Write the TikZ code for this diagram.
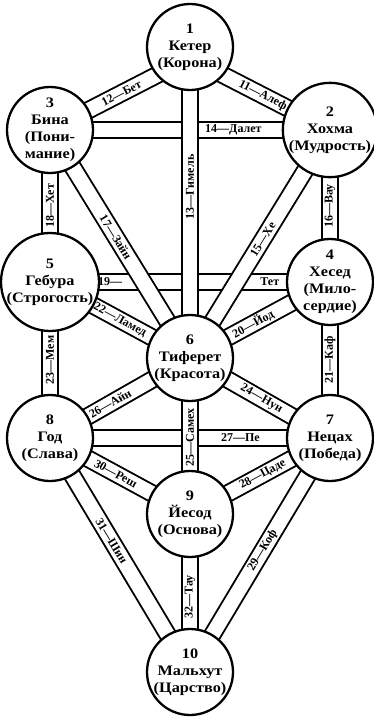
\documentclass[tikz,border=0pt]{standalone}
\usepackage{fontspec}
\setmainfont{Liberation Serif}
\newfontfamily\sefont{Liberation Serif Bold}[FakeStretch=1.12]
\usetikzlibrary{calc}
\pgfdeclarelayer{bg}
\pgfsetlayers{bg,main}
\begin{document}
\begin{tikzpicture}[x=1pt,y=-1pt,
  sef/.style={circle, draw, line width=2.3pt, fill=white, minimum size=86pt, inner sep=0pt, align=center, font=\sefont\fontsize{14.5}{17}\selectfont},
  band/.style={draw=black, line width=1.9pt, double=white, double distance=14.5pt},
  lab/.style={sloped, inner sep=0pt, font=\bfseries\fontsize{12}{12}\selectfont}]
\useasboundingbox (0,0) rectangle (374,718);
\node[sef] (K)  at (190,47)  {1\\Кетер\\(Корона)};
\node[sef] (B)  at (50,130)  {3\\Бина\\(Пони-\\мание)};
\node[sef] (H)  at (330,130) {2\\Хохма\\(Мудрость)};
\node[sef] (G)  at (50,282)  {5\\Гебура\\(Строгость)};
\node[sef] (C)  at (330,282) {4\\Хесед\\(Мило-\\сердие)};
\node[sef] (T)  at (190,358) {6\\Тиферет\\(Красота)};
\node[sef] (Hd) at (50,438)  {8\\Год\\(Слава)};
\node[sef] (N)  at (330,438) {7\\Нецах\\(Победа)};
\node[sef] (Y)  at (190,514) {9\\Йесод\\(Основа)};
\node[sef] (M)  at (190,672) {10\\Мальхут\\(Царство)};
\coordinate (Kb) at ($(K)+(0,11)$);
\begin{pgfonlayer}{bg}
\draw[band] (B.center) -- node[lab,pos=0.655]{14—Далет} (H.center);
\draw[band] (G.center) -- node[lab,pos=0.215]{19—} node[lab,pos=0.785]{Тет} (C.center);
\draw[band] (Hd.center) -- node[lab,pos=0.68]{27—Пе} (N.center);
\draw[band] (B.center) -- node[lab,pos=0.51]{12—Бет} (Kb);
\draw[band] (Kb) -- node[lab,pos=0.52]{11—Алеф} (H.center);
\draw[band] (T.center) -- node[lab,pos=0.55]{13—Гимель} (K.center);
\draw[band] (G.center) -- node[lab,pos=0.5]{18—Хет} (B.center);
\draw[band] (C.center) -- node[lab,pos=0.5]{16—Вау} (H.center);
\draw[band] (B.center) -- node[lab,pos=0.47]{17—Зайн} (T.center);
\draw[band] (T.center) -- node[lab,pos=0.52]{15—Хе} (H.center);
\draw[band] (G.center) -- node[lab,pos=0.5]{22—Ламед} (T.center);
\draw[band] (T.center) -- node[lab,pos=0.45]{20—Йод} (C.center);
\draw[band] (Hd.center) -- node[lab,pos=0.5]{23—Мем} (G.center);
\draw[band] (N.center) -- node[lab,pos=0.5]{21—Каф} (C.center);
\draw[band] (Hd.center) -- node[lab,pos=0.43]{26—Айн} (T.center);
\draw[band] (T.center) -- node[lab,pos=0.51]{24—Нун} (N.center);
\draw[band] (Y.center) -- node[lab,pos=0.49]{25—Самех} (T.center);
\draw[band] (Hd.center) -- node[lab,pos=0.47]{30—Реш} (Y.center);
\draw[band] (Y.center) -- node[lab,pos=0.52]{28—Цаде} (N.center);
\draw[band] (Hd.center) -- node[lab,pos=0.44]{31—Шин} (M.center);
\draw[band] (M.center) -- node[lab,pos=0.52]{29—Коф} (N.center);
\draw[band] (M.center) -- node[lab,pos=0.475]{32—Тау} (Y.center);
\end{pgfonlayer}
\end{tikzpicture}
\end{document}
